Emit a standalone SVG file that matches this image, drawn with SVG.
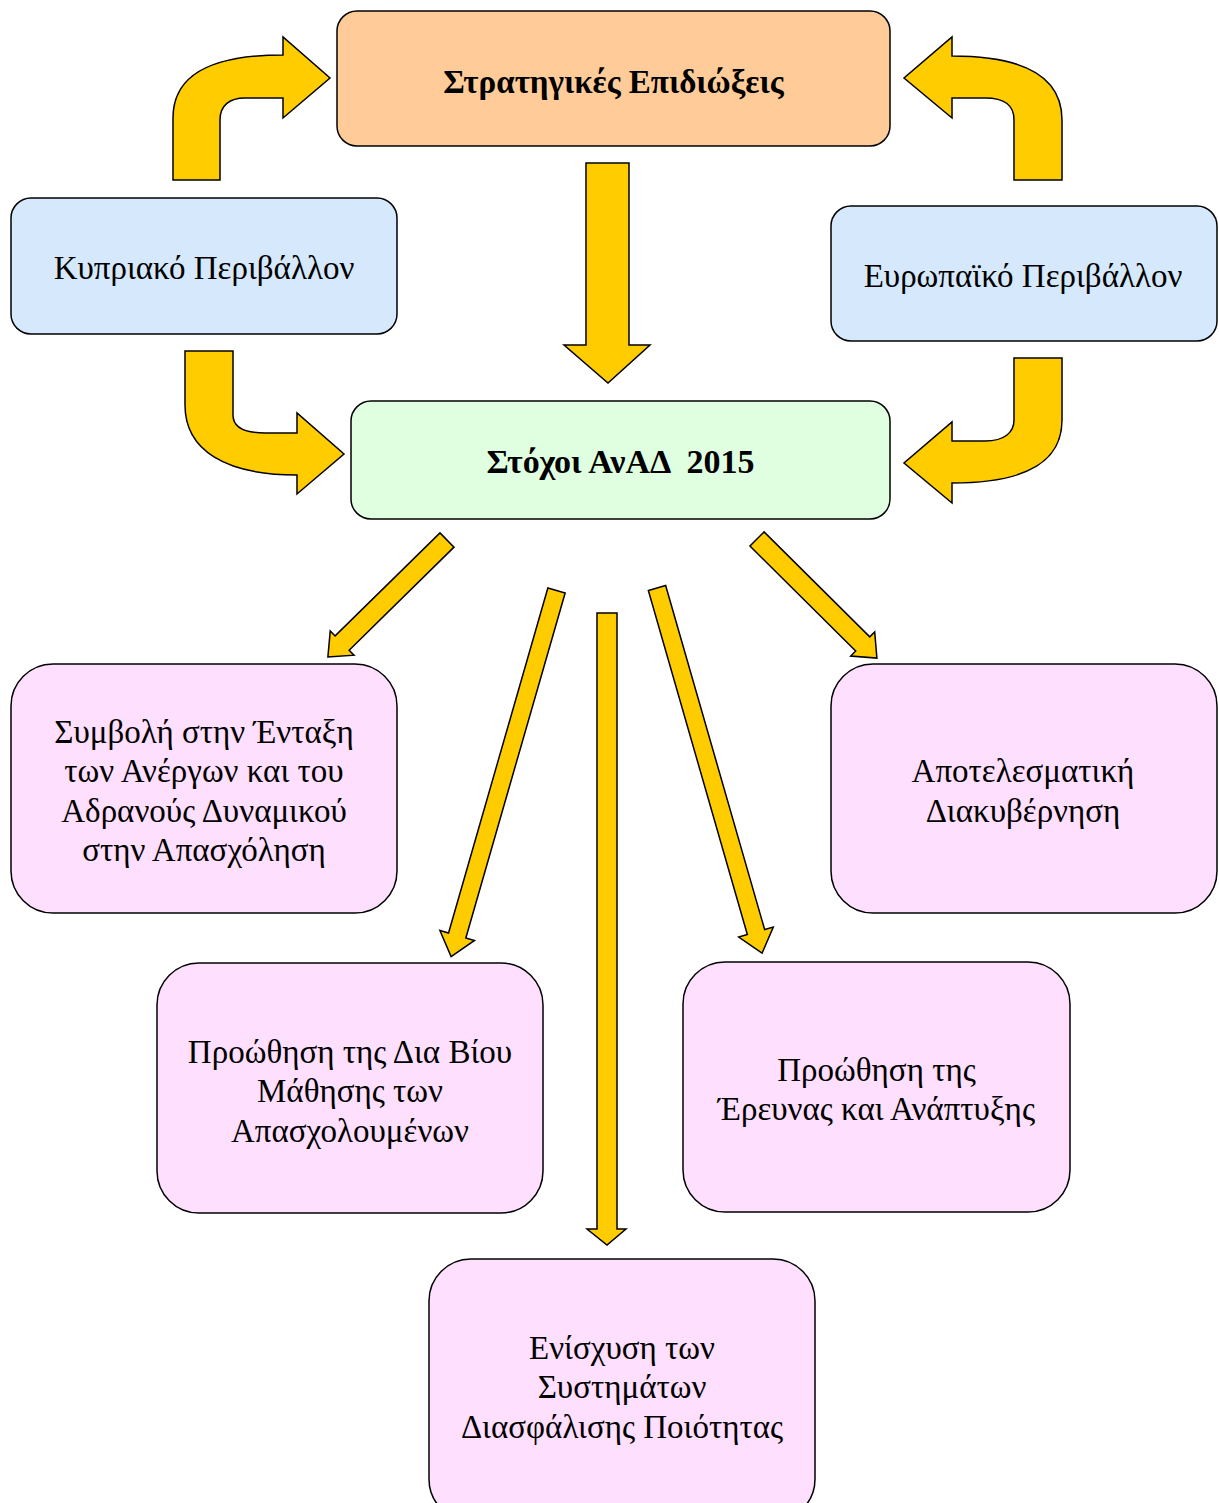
<svg xmlns="http://www.w3.org/2000/svg" width="1219" height="1503" viewBox="0 0 1219 1503">
<style>
.box{stroke:#000;stroke-width:1.5}
.orange{fill:#FFCC99}
.blue{fill:#D5E8FC}
.green{fill:#E0FFE0}
.pink{fill:#FEDFFE}
.arr{fill:#FFCC00;stroke:#000;stroke-width:1.5;stroke-linejoin:miter}
text{font-family:"Liberation Serif","Times New Roman","DejaVu Serif",serif;font-size:33px;fill:#000;text-anchor:middle}
.b{font-weight:bold}
</style>
<rect width="1219" height="1503" fill="#fff"/>
<g id="connectors">
<path class="arr" d="M173,180 L173,118 C173,75 210,55 283,55 L283,37 L330,78 L283,118 L283,98 L245,98 C230,98 220,105 220,120 L220,180 Z"/>
<path class="arr" d="M1062,180 L1062,120 C1062,75 1020,56 952,56 L952,37 L904,78 L952,118 L952,98 L985,98 C1005,98 1014,105 1014,120 L1014,180 Z"/>
<path class="arr" d="M185,351 L233,351 L233,415 C233,428 245,433 265,433 L297,433 L297,413 L344,454 L297,494 L297,475 C225,475 185,450 185,405 Z"/>
<path class="arr" d="M1014,358 L1062,358 L1062,420 C1062,460 1030,483 952,483 L952,503 L904,463 L952,422 L952,441 L985,441 C1005,441 1014,432 1014,420 Z"/>
<path class="arr" d="M586,163 L629,163 L629,345 L650,345 L608,383 L564,345 L586,345 Z"/>
<polygon class="arr" transform="translate(447,540) rotate(135.5)" points="0,-10 147,-10 147,-17 167,0 147,17 147,10 0,10"/>
<polygon class="arr" transform="translate(757,539) rotate(44.8)" points="0,-10 149,-10 149,-17 169,0 149,17 149,10 0,10"/>
<polygon class="arr" transform="translate(556.5,590.5) rotate(106.06)" points="0,-9 359,-9 359,-18 381,0 359,18 359,9 0,9"/>
<polygon class="arr" transform="translate(657,588) rotate(73.95)" points="0,-9 358,-9 358,-18 380,0 358,18 358,9 0,9"/>
<path class="arr" d="M597,613 L617,613 L617,1229 L626,1229 L607,1245 L587,1229 L597,1229 Z"/>
</g>
<g id="n-strategikes">
<rect class="box orange" x="337" y="11" width="553" height="135" rx="20"/>
<text class="b" x="613.5" y="93">Στρατηγικές Επιδιώξεις</text>
</g>
<g id="n-kypriako">
<rect class="box blue" x="11" y="198" width="386" height="136" rx="20"/>
<text x="204" y="279">Κυπριακό Περιβάλλον</text>
</g>
<g id="n-evropaiko">
<rect class="box blue" x="831" y="206" width="386" height="135" rx="20"/>
<text x="1023" y="287">Ευρωπαϊκό Περιβάλλον</text>
</g>
<g id="n-stoxoi">
<rect class="box green" x="351" y="401" width="539" height="118" rx="20"/>
<text class="b" x="620.5" y="473" style="font-size:34px" xml:space="preserve">Στόχοι ΑνΑΔ  2015</text>
</g>
<g id="n-symvoli">
<rect class="box pink" x="11" y="664" width="386" height="249" rx="42"/>
<text x="204" y="743">Συμβολή στην Ένταξη</text>
<text x="204" y="782">των Ανέργων και του</text>
<text x="204" y="822">Αδρανούς Δυναμικού</text>
<text x="204" y="861">στην Απασχόληση</text>
</g>
<g id="n-diakyvernisi">
<rect class="box pink" x="831" y="664" width="386" height="249" rx="42"/>
<text x="1023" y="782">Αποτελεσματική</text>
<text x="1023" y="822">Διακυβέρνηση</text>
</g>
<g id="n-diaviou">
<rect class="box pink" x="157" y="963" width="386" height="250" rx="42"/>
<text x="350" y="1063">Προώθηση της Δια Βίου</text>
<text x="350" y="1102">Μάθησης των</text>
<text x="350" y="1142">Απασχολουμένων</text>
</g>
<g id="n-erevna">
<rect class="box pink" x="683" y="962" width="387" height="250" rx="42"/>
<text x="876.5" y="1081">Προώθηση της</text>
<text x="876.5" y="1120">Έρευνας και Ανάπτυξης</text>
</g>
<g id="n-poiotita">
<rect class="box pink" x="429" y="1259" width="386" height="262" rx="42"/>
<text x="622" y="1359">Ενίσχυση των</text>
<text x="622" y="1398">Συστημάτων</text>
<text x="622" y="1438">Διασφάλισης Ποιότητας</text>
</g>
</svg>
